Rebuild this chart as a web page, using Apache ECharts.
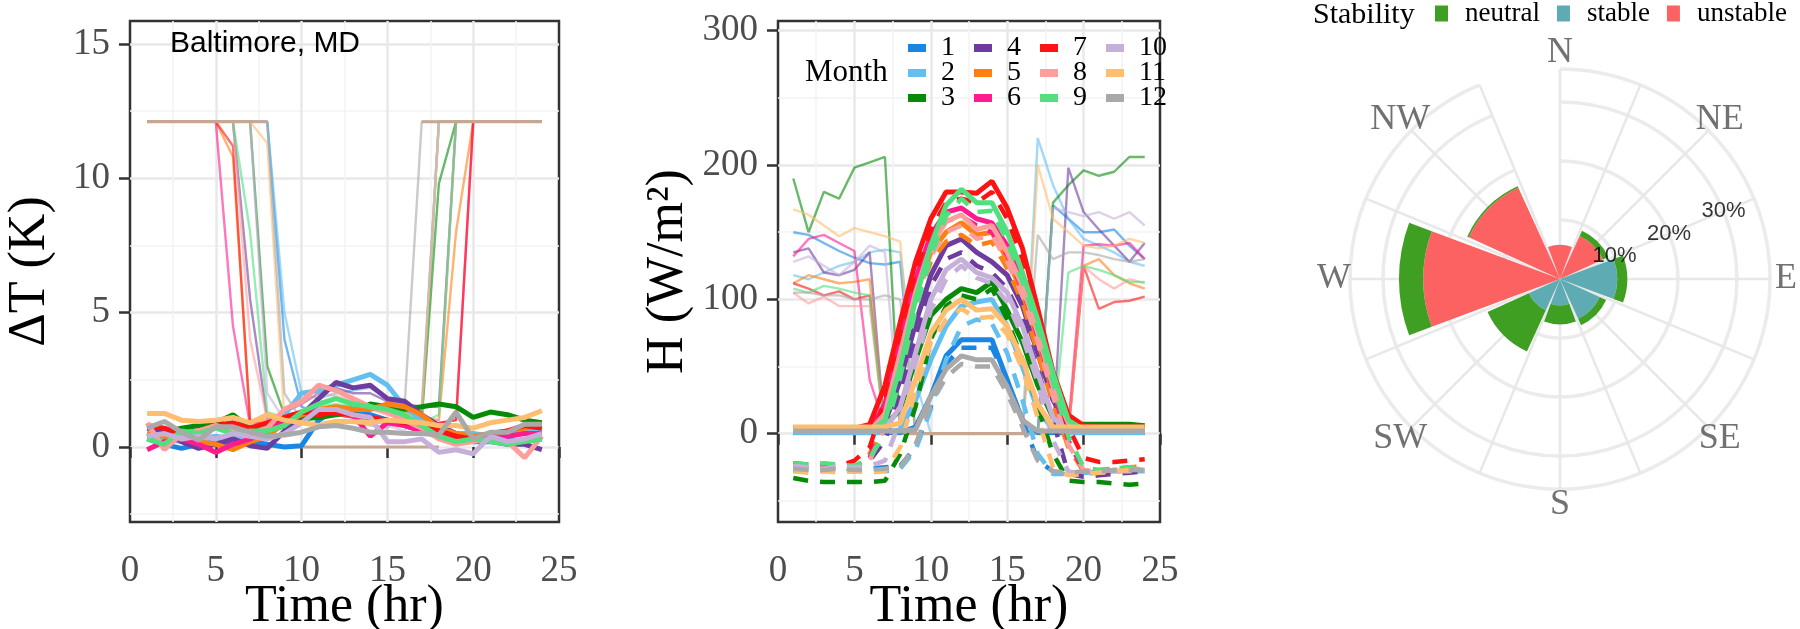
<!DOCTYPE html>
<html>
<head>
<meta charset="utf-8">
<script src="https://cdn.jsdelivr.net/npm/echarts@6/dist/echarts.min.js"></script>
<style>
  html, body { margin: 0; background: #fff; }
  #chart { width: 1800px; height: 629px; }
</style>
</head>
<body>
<div id="chart"></div>
<script>
// ---- data ----
const hours = [1, 2, 3, 4, 5, 6, 7, 8, 9, 10, 11, 12, 13, 14, 15, 16, 17, 18, 19, 20, 21, 22, 23, 24]
const months = ['1', '2', '3', '4', '5', '6', '7', '8', '9', '10', '11', '12']
const monthColors = ['#1a86e4', '#62bff0', '#078a07', '#6e3c9e', '#ff7f12', '#ff1a8e',
  '#ff1212', '#ff9d9d', '#50e07e', '#c6b0da', '#ffbd70', '#a9a9a9']

// left panel: daytime delta T (thick) and capped night values (thin)
const dtThick = [
  [0.3, 0.1, -0.05, 0.1, 0.2, 0.1, 0.2, 0.1, 0.0, 0.05, 1.0, 1.4, 1.3, 1.2, 1.0, 0.8, 0.6, 0.4, 0.3, 0.2, 0.2, 0.3, 0.2, 0.3],
  [0.5, 0.3, 0.2, 0.3, 0.4, 0.3, 0.5, 0.8, 1.2, 2.0, 2.1, 2.3, 2.5, 2.7, 2.3, 1.5, 1.0, 0.7, 0.5, 0.5, 0.4, 0.5, 0.6, 0.7],
  [0.4, 0.55, 0.7, 0.8, 0.9, 1.2, 0.7, 0.55, 0.8, 1.05, 1.1, 1.2, 1.3, 1.6, 1.5, 1.4, 1.5, 1.6, 1.5, 1.1, 1.3, 1.2, 1.0, 0.9],
  [0.7, 0.6, 0.2, -0.05, 0.1, 0.3, 0.05, -0.05, 0.6, 1.2, 1.8, 2.4, 2.2, 2.3, 1.8, 1.7, 1.2, 0.8, 0.5, 0.3, 0.2, 0.1, 0.1, -0.1],
  [0.5, 0.4, 0.3, 0.2, 0.1, -0.1, 0.2, 0.4, 0.9, 1.2, 1.4, 1.5, 1.4, 1.4, 1.6, 1.5, 1.2, 0.7, 0.5, 0.4, 0.5, 0.6, 0.7, 0.8],
  [-0.1, 0.2, 0.3, 0.1, -0.2, 0.1, 0.3, 0.6, 1.0, 1.3, 1.4, 1.3, 1.2, 0.4, 0.9, 0.8, 0.6, 0.4, 0.3, 0.2, 0.3, 0.4, 0.5, 0.5],
  [0.8, 0.7, 0.5, 0.6, 0.8, 0.9, 0.7, 0.9, 1.1, 1.3, 1.2, 1.3, 1.2, 1.1, 1.0, 0.9, 0.8, 0.6, 0.4, 0.3, 0.5, 0.6, 0.8, 0.7],
  [0.9, -0.1, 0.5, 0.6, 0.8, 0.6, 0.5, 0.7, 1.4, 1.7, 2.3, 2.1, 1.8, 1.5, 1.3, 1.0, 0.7, 0.3, 0.1, 0.2, 0.3, 0.2, -0.4, 0.4],
  [0.3, 0.1, 0.6, 0.5, 0.7, 0.5, 0.6, 0.6, 0.8, 1.3, 1.6, 1.8, 1.6, 1.5, 1.4, 1.2, 0.8, 0.4, 0.2, 0.3, 0.2, 0.1, 0.2, 0.3],
  [0.4, 0.5, 0.3, 0.4, 0.3, 0.5, 0.4, 0.3, 0.5, 0.9, 1.4, 1.4, 1.2, 1.1, 0.2, 0.2, 0.3, -0.2, -0.1, -0.25, 0.4, 0.2, 0.3, 0.5],
  [1.25, 1.25, 1.0, 0.95, 1.0, 1.1, 0.9, 1.2, 1.0, 0.9, 0.8, 0.95, 0.95, 0.9, 1.0, 0.95, 0.9, 0.8, 0.8, 0.7, 0.9, 1.0, 1.1, 1.35],
  [0.7, 0.95, 0.55, 0.25, 0.75, 0.75, 0.55, 0.4, 0.45, 0.55, 0.75, 0.8, 0.7, 0.55, 0.55, 0.5, 0.5, 0.45, 1.3, 0.3, 0.55, 0.55, 0.85, 0.85]
]
const dtThin = [
  [12.1, 12.1, 12.1, 12.1, 12.1, 12.1, 12.1, 12.1, 4, 1.5, 1.2, 1.3, 1.2, 1.1, 1, 0.9, 1.2, 12.1, 12.1, 12.1, 12.1, 12.1, 12.1, 12.1],
  [12.1, 12.1, 12.1, 12.1, 12.1, 12.1, 12.1, 12.1, 5, 2, 1.8, 2, 2.1, 2.2, 1.8, 1.2, 1, 12.1, 12.1, 12.1, 12.1, 12.1, 12.1, 12.1],
  [12.1, 12.1, 12.1, 12.1, 12.1, 12.1, 12.1, 3, 1.2, 1.3, 1.4, 1.5, 1.5, 1.6, 1.5, 1.4, 1.0, 9.8, 12.1, 12.1, 12.1, 12.1, 12.1, 12.1],
  [12.1, 12.1, 12.1, 12.1, 12.1, 12.1, 5.5, 1, 1.3, 1.6, 2, 2.2, 2, 2, 1.7, 1.6, 1.5, 1.5, 12.1, 12.1, 12.1, 12.1, 12.1, 12.1],
  [12.1, 12.1, 12.1, 12.1, 12.1, 10.8, 1, 1, 1.1, 1.3, 1.4, 1.4, 1.3, 1.4, 1.5, 1.3, 1.1, 1, 8, 12.1, 12.1, 12.1, 12.1, 12.1],
  [12.1, 12.1, 12.1, 12.1, 12.1, 4.5, 0.8, 0.8, 1.0, 1.2, 1.3, 1.2, 1.1, 1, 0.9, 0.8, 0.8, 0.9, 1.0, 12.1, 12.1, 12.1, 12.1, 12.1],
  [12.1, 12.1, 12.1, 12.1, 12.1, 11.2, 0.9, 0.9, 1.1, 1.2, 1.3, 1.2, 1.1, 1.1, 1, 0.9, 0.8, 0.9, 1.0, 12.1, 12.1, 12.1, 12.1, 12.1],
  [12.1, 12.1, 12.1, 12.1, 12.1, 12.1, 4, 1, 1.3, 1.6, 2, 1.9, 1.7, 1.4, 1.2, 1.0, 0.8, 1.0, 12.1, 12.1, 12.1, 12.1, 12.1, 12.1],
  [12.1, 12.1, 12.1, 12.1, 12.1, 12.1, 8, 1.3, 1.1, 1.3, 1.5, 1.6, 1.5, 1.4, 1.3, 1.1, 0.9, 1.2, 12.1, 12.1, 12.1, 12.1, 12.1, 12.1],
  [12.1, 12.1, 12.1, 12.1, 12.1, 12.1, 12.1, 2, 1, 1.0, 1.2, 1.3, 1.2, 1.1, 0.8, 0.6, 1.5, 12.1, 12.1, 12.1, 12.1, 12.1, 12.1, 12.1],
  [12.1, 12.1, 12.1, 12.1, 12.1, 12.1, 12.1, 11.3, 1, 0.9, 0.9, 1.0, 1.0, 0.9, 0.9, 0.9, 1.0, 12.1, 12.1, 12.1, 12.1, 12.1, 12.1, 12.1],
  [12.1, 12.1, 12.1, 12.1, 12.1, 12.1, 12.1, 12.1, 2, 1, 0.8, 0.9, 0.9, 0.8, 0.7, 1.5, 12.1, 12.1, 12.1, 12.1, 12.1, 12.1, 12.1, 12.1]
]
// reference cap line: night part and day part
const dtCapNight = [12.1, 12.1, 12.1, 12.1, 12.1, 12.1, 12.1, 12.1, null, null, null, null, null, null, null, null, 12.1, 12.1, 12.1, 12.1, 12.1, 12.1, 12.1, 12.1]
const dtCapDay = [null, null, null, null, null, null, null, null, null, 0, 0, 0, 0, 0, 0, 0, 0, 0, null, null, null, null, null, null]

// middle panel: sensible heat flux
const hSolid = [
  [1, 1, 1, 1, 1, 1, 1, 1, 5, 28, 58, 70, 70, 70, 40, 10, 1, 1, 1, 1, 1, 1, 1, 1],
  [1, 1, 1, 1, 1, 1, 1, 3, 25, 55, 80, 95, 98, 100, 80, 50, 18, 3, 1, 1, 1, 1, 1, 1],
  [3, 3, 3, 3, 4, 5, 6, 18, 55, 88, 100, 108, 105, 113, 92, 68, 36, 12, 7, 7, 7, 7, 7, 6],
  [2, 2, 2, 2, 2, 2, 8, 40, 82, 118, 140, 145, 135, 128, 118, 95, 60, 25, 4, 2, 2, 2, 2, 2],
  [4, 4, 4, 4, 4, 5, 18, 62, 105, 135, 150, 157, 148, 150, 130, 105, 70, 30, 8, 4, 4, 4, 4, 4],
  [2, 2, 2, 2, 2, 3, 22, 70, 115, 148, 165, 168, 160, 157, 140, 115, 80, 40, 10, 3, 3, 3, 3, 3],
  [4, 4, 3, 3, 4, 7, 36, 83, 128, 160, 180, 180, 179, 188, 168, 138, 93, 46, 14, 6, 5, 5, 5, 5],
  [2, 2, 2, 2, 2, 2, 15, 60, 105, 140, 158, 163, 152, 155, 135, 110, 75, 35, 8, 2, 2, 2, 2, 2],
  [3, 3, 2, 2, 2, 2, 10, 50, 100, 140, 170, 182, 172, 172, 150, 120, 85, 45, 10, 3, 3, 3, 3, 3],
  [2, 2, 2, 2, 2, 2, 3, 20, 60, 100, 122, 130, 120, 116, 105, 80, 45, 12, 2, 2, 2, 2, 2, 2],
  [5, 5, 5, 5, 5, 5, 5, 8, 40, 75, 92, 100, 92, 93, 80, 55, 22, 5, 5, 5, 5, 5, 5, 5],
  [2, 2, 2, 2, 2, 2, 2, 2, 3, 28, 48, 58, 55, 55, 35, 10, 2, 2, 2, 2, 2, 2, 2, 2]
]
const hDashed = [
  [-25, -27, -26, -25, -27, -26, -25, -24, -10, 20, 52, 64, 64, 64, 40, 10, -20, -28, -30, -29, -28, -27, -27, -26],
  [-28, -27, -26, -27, -28, -27, -28, -26, -12, 18, 55, 80, 85, 82, 60, 25, -15, -30, -30, -29, -29, -28, -28, -28],
  [-33, -35, -36, -36, -36, -36, -35, -15, 20, 70, 95, 103, 100, 108, 85, 55, 20, -15, -35, -36, -36, -37, -38, -37],
  [-25, -24, -25, -25, -24, -20, -5, 30, 70, 110, 130, 135, 125, 120, 108, 85, 48, 10, -30, -32, -31, -30, -29, -28],
  [-24, -25, -26, -25, -26, -15, 10, 55, 98, 128, 143, 148, 140, 143, 123, 98, 60, 22, -10, -28, -27, -26, -25, -24],
  [-27, -28, -27, -27, -28, -18, 12, 62, 108, 140, 158, 162, 155, 150, 133, 108, 72, 32, -5, -28, -29, -28, -27, -27],
  [-22, -23, -24, -24, -20, -10, 25, 75, 120, 152, 172, 175, 172, 180, 160, 130, 85, 38, 5, -18, -21, -21, -20, -19],
  [-26, -27, -26, -27, -28, -20, 5, 52, 98, 132, 150, 155, 145, 148, 128, 103, 68, 28, -8, -27, -28, -27, -26, -27],
  [-22, -23, -22, -23, -24, -18, 0, 42, 92, 132, 162, 175, 165, 166, 143, 113, 78, 38, -2, -25, -27, -26, -25, -25],
  [-24, -25, -26, -24, -25, -24, -20, 10, 52, 92, 115, 125, 116, 112, 98, 72, 38, -5, -28, -30, -29, -28, -28, -27],
  [-28, -29, -28, -29, -28, -29, -28, -10, 32, 68, 85, 93, 86, 87, 74, 48, 12, -25, -31, -30, -29, -28, -27, -28],
  [-26, -27, -27, -26, -27, -27, -26, -25, -8, 22, 42, 52, 50, 50, 30, 5, -20, -28, -29, -28, -28, -27, -27, -27]
]
const hThin = [
  [150, 148, 142, 136, 131, 127, 126, 128, 0, 0, 0, 0, 0, 0, 0, 0, 0, 170, 160, 150, 150, 152, 140, 130],
  [118, 115, 120, 125, 128, 135, 137, 135, 40, 0, 0, 0, 0, 0, 0, 0, 220, 185, 160, 145, 140, 135, 128, 125],
  [190, 150, 180, 175, 198, 202, 206, 0, 0, 0, 0, 0, 0, 0, 0, 0, 0, 172, 185, 196, 192, 195, 206, 206],
  [135, 138, 120, 118, 122, 135, 0, 0, 0, 0, 0, 0, 0, 0, 0, 0, 0, 0, 198, 165, 152, 140, 128, 142],
  [112, 118, 115, 112, 113, 115, 0, 0, 0, 0, 0, 0, 0, 0, 0, 0, 0, 0, 0, 125, 130, 118, 112, 108],
  [132, 145, 148, 142, 136, 40, 5, 0, 0, 0, 0, 0, 0, 0, 0, 0, 0, 0, 5, 140, 141, 140, 142, 130],
  [112, 108, 103, 106, 100, 103, 0, 0, 0, 0, 0, 0, 0, 0, 0, 0, 0, 0, 0, 125, 93, 98, 99, 102],
  [105, 97, 102, 95, 95, 95, 0, 0, 0, 0, 0, 0, 0, 0, 0, 0, 0, 0, 0, 125, 115, 108, 115, 112],
  [108, 105, 110, 108, 105, 103, 0, 0, 0, 0, 0, 0, 0, 0, 0, 0, 0, 0, 120, 125, 122, 118, 113, 113],
  [128, 132, 125, 118, 128, 140, 135, 0, 0, 0, 0, 0, 0, 0, 0, 0, 0, 168, 165, 162, 165, 160, 165, 155],
  [167, 163, 155, 147, 153, 150, 147, 143, 0, 0, 0, 0, 0, 0, 0, 0, 200, 160, 150, 140, 138, 140, 145, 142],
  [105, 105, 103, 103, 100, 100, 103, 100, 0, 0, 0, 0, 0, 0, 0, 0, 148, 130, 135, 135, 133, 130, 128, 130]
]
const hCap = [0, 0, 0, 0, 0, 0, 0, 0, 0, 0, 0, 0, 0, 0, 0, 0, 0, 0, 0, 0, 0, 0, 0, 0]

// right panel: wind rose (% of time)
const gridDirs = ['N', 'NNE', 'NE', 'ENE', 'E', 'ESE', 'SE', 'SSE', 'S', 'SSW', 'SW', 'WSW', 'W', 'WNW', 'NW', 'NNW']
const windDirs = ['N', 'NE', 'E', 'SE', 'S', 'SW', 'W', 'NW']
const unstable = [5.8, 8.0, 0, 0, 0, 0, 23.2, 17.0]
const stable = [0, 0, 9.7, 7.4, 4.5, 5.8, 0, 0]
const neutral = [0, 1.0, 1.7, 1.2, 3.2, 7.7, 4.1, 0.3]
const pctTicks = [10, 20, 30]

const dtTicks = [0, 5, 10, 15]
const dtMinor = [-2.5, 2.5, 7.5, 12.5]
const hTicks = [0, 100, 200, 300]
const hMinor = [-50, 50, 150, 250]

// ---- style ----
const SERIF = "'Liberation Serif', 'DejaVu Serif', serif"
const SANS = "'Liberation Sans', Arial, sans-serif"
const stabilityColors = { neutral: '#3f9f22', stable: '#5eabb3', unstable: '#fd6262' }
const ROSE_CENTER = [1560, 279]
const ROSE_MAX = 35.6 // radius axis max (%), outer end of the spokes

const chart = echarts.init(document.getElementById('chart'), null, { renderer: 'canvas' })

const pairs = arr => hours.map((h, i) => [h, arr[i] === null ? '-' : arr[i]])

function xAxisFor(gridIndex) {
  return {
    type: 'value', gridIndex, min: 0, max: 25, interval: 5,
    name: 'Time (hr)', nameLocation: 'middle', nameGap: 59, nameMoveOverlap: false,
    nameTextStyle: { fontFamily: SERIF, fontSize: 52, color: '#000' },
    axisLine: { show: false },
    axisTick: { show: true, inside: false, length: 11, lineStyle: { color: '#333', width: 2.5 } },
    axisLabel: { margin: 31, fontFamily: SERIF, fontSize: 37, color: '#4d4d4d' },
    splitLine: { show: true, showMinLine: false, showMaxLine: false, lineStyle: { color: '#e8e8e8', width: 2.5 } },
    minorTick: { show: false, splitNumber: 2 },
    minorSplitLine: { show: true, lineStyle: { color: '#f3f3f3', width: 1.5 } }
  }
}

function yAxesFor(gridIndex, min, max, ticks, minor, name, nameGap) {
  return [
    {
      type: 'value', gridIndex, min, max, position: 'left',
      name, nameLocation: 'middle', nameGap, nameMoveOverlap: false,
      nameTextStyle: { fontFamily: SERIF, fontSize: 52, color: '#000' },
      axisLine: { show: false },
      axisTick: { show: true, length: 11, customValues: ticks, lineStyle: { color: '#333', width: 2.5 } },
      axisLabel: { margin: 20, customValues: ticks, fontFamily: SERIF, fontSize: 37, color: '#4d4d4d' },
      splitLine: { show: true, lineStyle: { color: '#e8e8e8', width: 2.5 } }
    },
    {
      type: 'value', gridIndex, min, max, position: 'right',
      axisLine: { show: false },
      axisTick: { show: false, customValues: minor },
      axisLabel: { show: false, customValues: minor },
      splitLine: { show: true, lineStyle: { color: '#f3f3f3', width: 1.5 } }
    }
  ]
}

const series = []

// left panel
months.forEach((m, i) => {
  series.push({
    name: 'dT night ' + m, type: 'line', xAxisIndex: 0, yAxisIndex: 0,
    data: pairs(dtThin[i]), showSymbol: false, color: monthColors[i],
    lineStyle: { width: 2.4, opacity: 0.6 }, silent: true
  })
})
;[dtCapNight, dtCapDay].forEach((arr, k) => {
  series.push({
    name: 'dT cap ' + k, type: 'line', xAxisIndex: 0, yAxisIndex: 0, data: pairs(arr),
    showSymbol: false, color: '#c9a78f', lineStyle: { width: 3 }, silent: true
  })
})
months.forEach((m, i) => {
  series.push({
    name: 'dT ' + m, type: 'line', xAxisIndex: 0, yAxisIndex: 0,
    data: pairs(dtThick[i]), showSymbol: false, color: monthColors[i],
    lineStyle: { width: 5 }, silent: true
  })
})

// middle panel
months.forEach((m, i) => {
  series.push({
    name: 'H night ' + m, type: 'line', xAxisIndex: 1, yAxisIndex: 2,
    data: pairs(hThin[i]), showSymbol: false, color: monthColors[i],
    lineStyle: { width: 2.4, opacity: 0.6 }, silent: true
  })
})
series.push({
  name: 'H cap', type: 'line', xAxisIndex: 1, yAxisIndex: 2, data: pairs(hCap),
  showSymbol: false, color: '#c9a78f', lineStyle: { width: 3 }, silent: true
})
months.forEach((m, i) => {
  series.push({
    name: m, type: 'line', xAxisIndex: 1, yAxisIndex: 2,
    data: pairs(hSolid[i]), showSymbol: false, color: monthColors[i],
    lineStyle: { width: 5 }, silent: true
  })
  series.push({
    name: 'H dashed ' + m, type: 'line', xAxisIndex: 1, yAxisIndex: 2,
    data: pairs(hDashed[i]), showSymbol: false, color: monthColors[i],
    lineStyle: { width: 4.5, type: [15, 12] }, silent: true
  })
})

// wind rose, stacked from the centre outwards
const roseParts = [['unstable', unstable], ['stable', stable], ['neutral', neutral]]
roseParts.forEach(([name, vals]) => {
  series.push({
    name, type: 'bar', coordinateSystem: 'polar', polarIndex: 1, stack: 'rose',
    data: vals, barCategoryGap: '9%', color: stabilityColors[name], silent: true
  })
})
series.push({
  name: 'pct labels', type: 'scatter', coordinateSystem: 'polar', polarIndex: 0,
  data: pctTicks.map(v => [v, 'ENE']), symbolSize: 0, z: 10, silent: true,
  label: {
    show: true, position: 'inside', formatter: p => p.value[0] + '%',
    fontFamily: SANS, fontSize: 22, color: '#000'
  }
})
// compass letters sit on the rim of a third (label-only) polar
series.push({
  name: 'compass', type: 'scatter', coordinateSystem: 'polar', polarIndex: 2,
  data: windDirs.map(d => ({ name: d, value: [1, d] })), symbolSize: 0, z: 10, silent: true,
  label: {
    show: true, position: 'inside', formatter: '{b}',
    fontFamily: SERIF, fontSize: 36, color: '#4d4d4d'
  }
})

const monthLegend = (names, left) => ({
  data: names, left, top: 29, orient: 'vertical', icon: 'rect',
  itemWidth: 18, itemHeight: 8, itemGap: -3, selectedMode: false,
  textStyle: { fontFamily: SERIF, fontSize: 28, lineHeight: 24, color: '#000', padding: [0, 0, 0, 10] }
})

const gridBase = {
  top: 21, bottom: 107, show: true, borderColor: '#333', borderWidth: 2.5,
  backgroundColor: '#fff', containLabel: false, outerBoundsMode: 'none'
}

const option = {
  animation: false,
  backgroundColor: '#fff',
  title: [
    { text: 'Baltimore, MD', left: 170, top: 29, padding: 0,
      textStyle: { fontFamily: SANS, fontSize: 30, fontWeight: 'normal', color: '#000' } },
    { text: 'Month', left: 805, top: 57, padding: 0,
      textStyle: { fontFamily: SERIF, fontSize: 31, fontWeight: 'normal', color: '#000' } },
    { text: 'Stability', left: 1313, top: 0, padding: 0,
      textStyle: { fontFamily: SERIF, fontSize: 30, fontWeight: 'normal', color: '#000' } }
  ],
  legend: [
    monthLegend(['1', '2', '3'], 903),
    monthLegend(['4', '5', '6'], 969),
    monthLegend(['7', '8', '9'], 1035),
    monthLegend(['10', '11', '12'], 1101),
    {
      data: ['neutral', 'stable', 'unstable'], left: 1435, top: 0, width: 380, padding: 0,
      orient: 'horizontal', icon: 'rect', itemWidth: 13, itemHeight: 16, itemGap: 17, selectedMode: false,
      textStyle: { fontFamily: SERIF, fontSize: 27, color: '#000', padding: [0, 0, 0, 12] }
    }
  ],
  grid: [
    { ...gridBase, left: 130, right: 1241 },
    { ...gridBase, left: 778, right: 640 }
  ],
  xAxis: [xAxisFor(0), xAxisFor(1)],
  yAxis: [
    ...yAxesFor(0, -2.79, 15.85, dtTicks, dtMinor, 'ΔT (K)', 74),
    ...yAxesFor(1, -65.7, 307.2, hTicks, hMinor, 'H (W/m²)', 84)
  ],
  polar: [
    { center: ROSE_CENTER, radius: 210 },
    { center: ROSE_CENTER, radius: 210 },
    { center: ROSE_CENTER, radius: 226 }
  ],
  angleAxis: [
    {
      polarIndex: 0, type: 'category', data: gridDirs, boundaryGap: false, startAngle: 90,
      axisLine: { show: false }, axisTick: { show: false }, axisLabel: { show: false },
      splitLine: { show: true, lineStyle: { color: '#e8e8e8', width: 2.5 } }
    },
    {
      polarIndex: 1, type: 'category', data: windDirs, startAngle: 112.5,
      axisLine: { show: false }, axisTick: { show: false }, axisLabel: { show: false },
      splitLine: { show: false }
    },
    {
      polarIndex: 2, type: 'category', data: windDirs, boundaryGap: false, startAngle: 90,
      axisLine: { show: false }, axisTick: { show: false }, axisLabel: { show: false },
      splitLine: { show: false }
    }
  ],
  radiusAxis: [
    {
      polarIndex: 0, min: 0, max: ROSE_MAX, interval: 10,
      axisLine: { show: false }, axisTick: { show: false }, axisLabel: { show: false },
      splitLine: { show: true, lineStyle: { color: '#ebebeb', width: 3.5 } }
    },
    {
      polarIndex: 1, min: 0, max: ROSE_MAX,
      axisLine: { show: false }, axisTick: { show: false }, axisLabel: { show: false },
      splitLine: { show: false }
    },
    {
      polarIndex: 2, min: 0, max: 1,
      axisLine: { show: false }, axisTick: { show: false }, axisLabel: { show: false },
      splitLine: { show: false }
    }
  ],
  series
}

chart.setOption(option)
</script>
</body>
</html>
